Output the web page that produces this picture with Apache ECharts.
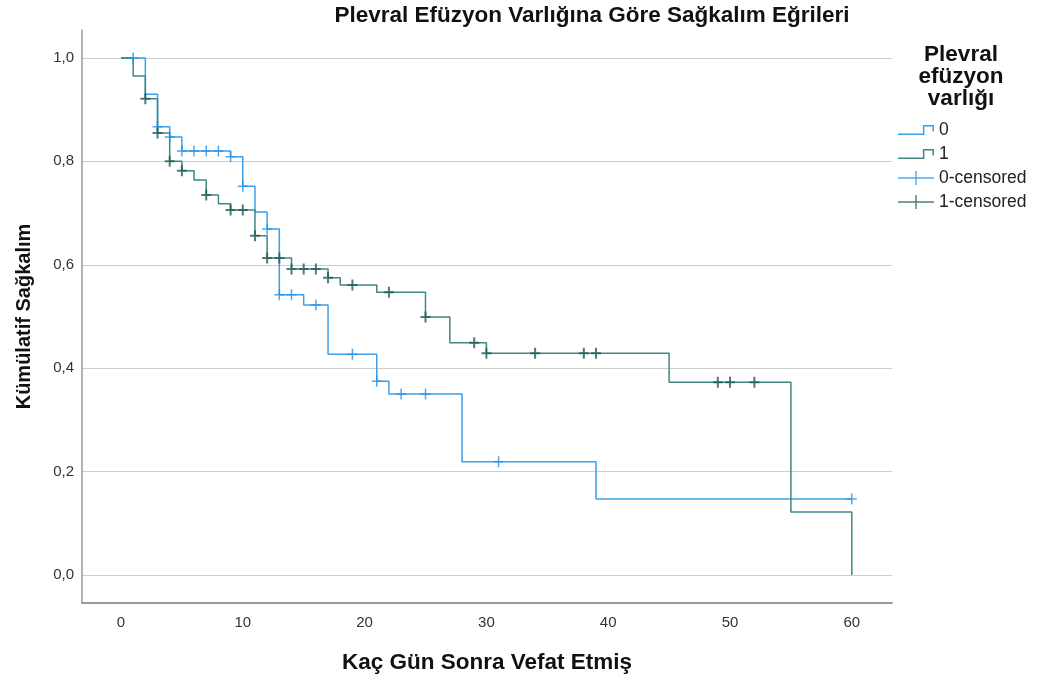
<!DOCTYPE html>
<html>
<head>
<meta charset="utf-8">
<script src="https://cdn.jsdelivr.net/npm/echarts@6/dist/echarts.min.js"></script>
<style>
  html, body { margin: 0; padding: 0; background: #ffffff; }
  #chart { width: 1044px; height: 684px; }
</style>
</head>
<body>
<div id="chart"></div>
<script>
// Kaplan–Meier curves: day of each drop and cumulative survival right after it
const timesNoEffusion    = [0, 2, 3, 4, 5, 9, 10, 11, 12, 13, 15, 17, 21, 22, 28, 39, 60];
const survivalNoEffusion = [1.0, 0.930, 0.867, 0.847, 0.820, 0.809, 0.752, 0.702, 0.669, 0.542, 0.522, 0.427, 0.375, 0.350, 0.219, 0.147, 0.147];
const censoredNoEffusion = [1, 3, 4, 5, 6, 7, 8, 9, 10, 12, 13, 14, 16, 19, 21, 23, 25, 31, 60];

const timesEffusion    = [0, 1, 2, 3, 4, 5, 6, 7, 8, 9, 11, 12, 14, 17, 18, 21, 25, 27, 30, 45, 55, 60];
const survivalEffusion = [1.0, 0.965, 0.921, 0.855, 0.800, 0.782, 0.764, 0.735, 0.718, 0.706, 0.656, 0.613, 0.592, 0.575, 0.561, 0.547, 0.499, 0.449, 0.429, 0.373, 0.122, 0.0];
const censoredEffusion = [2, 3, 4, 5, 7, 9, 10, 11, 12, 13, 14, 15, 16, 17, 19, 22, 25, 29, 30, 34, 38, 39, 49, 50, 52];

const groupNames = ['0', '1', '0-censored', '1-censored'];
const chartTitle = 'Plevral Efüzyon Varlığına Göre Sağkalım Eğrileri';
const legendTitle = 'Plevral\nefüzyon\nvarlığı';
const xAxisTitle = 'Kaç Gün Sonra Vefat Etmiş';
const yAxisTitle = 'Kümülatif Sağkalım';

// Survival level of a step curve at time t
function survivalAt(times, surv, t) {
  let s = surv[0];
  for (let i = 0; i < times.length; i++) {
    if (times[i] <= t) s = surv[i];
  }
  return s;
}
const zip = (a, b) => a.map((v, i) => [v, b[i]]);

const BLUE = '#3aa0ea';
const BLUE_MARK = '#2590e6';
const TEAL = '#3f8783';
const TEAL_MARK = '#1f5c56';
const FONT = 'Liberation Sans, Arial, sans-serif';

const plusThin = 'path://M4.25,0h1.5v11h-1.5z M0,4.75h10v1.5h-10z';
const plusBold = 'path://M4,0h2v11h-2z M0,4.5h10v2h-10z';
const stepIcon = 'path://M0,8.3h24.7v1.4H0z M23.3,0.3h1.4v9.4h-1.4z M23.3,0.3h10.4v1.4h-10.4z M32.3,0.3h1.4v6h-1.4z';
const plusIcon = 'path://M0,6.3h36v1.4H0z M17.3,0h1.4v14h-1.4z';

const decimalComma = v => Math.abs(v).toFixed(1).replace('.', ',');

const chart = echarts.init(document.getElementById('chart'), null, { renderer: 'canvas' });
chart.setOption({
  animation: false,
  backgroundColor: '#ffffff',
  textStyle: { fontFamily: FONT },
  grid: { left: 82, right: 152, top: 30, bottom: 81, containLabel: false },
  graphic: [
    {
      type: 'text', x: 592, y: 4,
      style: { text: chartTitle, font: 'bold 22.5px ' + FONT, fill: '#111', align: 'center', verticalAlign: 'top' }
    },
    {
      type: 'text', x: 961, y: 44,
      style: { text: legendTitle, font: 'bold 22.5px ' + FONT, fill: '#111', align: 'center', verticalAlign: 'top', lineHeight: 22 }
    }
  ],
  legend: {
    orient: 'vertical',
    left: 893,
    top: 116,
    itemWidth: 36,
    itemHeight: 14,
    itemGap: 6,
    selectedMode: false,
    itemStyle: { borderWidth: 0 },
    textStyle: { fontSize: 17.5, color: '#222', fontFamily: FONT, lineHeight: 18 },
    data: [
      { name: groupNames[0], icon: stepIcon },
      { name: groupNames[1], icon: stepIcon },
      { name: groupNames[2], icon: plusIcon },
      { name: groupNames[3], icon: plusIcon }
    ]
  },
  xAxis: {
    type: 'value',
    min: -3.2,
    max: 63.3,
    name: xAxisTitle,
    nameLocation: 'middle',
    nameGap: 48,
    nameTextStyle: { fontSize: 22.5, fontWeight: 'bold', color: '#111', fontFamily: FONT },
    axisLine: { show: true, onZero: false, lineStyle: { color: '#9a9a9a', width: 2 } },
    axisTick: { show: false },
    splitLine: { show: false },
    axisLabel: {
      fontSize: 15, color: '#333', margin: 12, fontFamily: FONT,
      showMinLabel: false, showMaxLabel: false,
      formatter: v => String(Math.abs(v))
    }
  },
  yAxis: {
    type: 'value',
    min: -0.054,
    max: 1.054,
    name: yAxisTitle,
    nameLocation: 'middle',
    nameGap: 48,
    nameTextStyle: { fontSize: 20, fontWeight: 'bold', color: '#111', fontFamily: FONT },
    axisLine: { show: true, onZero: false, lineStyle: { color: '#9a9a9a', width: 1.5 } },
    axisTick: { show: false },
    splitLine: { show: true, showMinLine: false, showMaxLine: false, lineStyle: { color: '#cdcdcd', width: 1.2 } },
    axisLabel: {
      fontSize: 15, color: '#333', margin: 8, fontFamily: FONT,
      showMinLabel: false, showMaxLabel: false,
      formatter: decimalComma
    }
  },
  series: [
    {
      name: groupNames[0], type: 'line', step: 'end', symbol: 'none', showSymbol: false,
      data: zip(timesNoEffusion, survivalNoEffusion),
      lineStyle: { color: BLUE, width: 1.5 }, itemStyle: { color: BLUE }, z: 2
    },
    {
      name: groupNames[1], type: 'line', step: 'end', symbol: 'none', showSymbol: false,
      data: zip(timesEffusion, survivalEffusion),
      lineStyle: { color: TEAL, width: 1.5 }, itemStyle: { color: TEAL }, z: 3
    },
    {
      name: groupNames[2], type: 'scatter', symbol: plusThin, symbolSize: [10, 11],
      data: censoredNoEffusion.map(t => [t, survivalAt(timesNoEffusion, survivalNoEffusion, t)]),
      itemStyle: { color: BLUE_MARK }, z: 4
    },
    {
      name: groupNames[3], type: 'scatter', symbol: plusBold, symbolSize: [10, 11],
      data: censoredEffusion.map(t => [t, survivalAt(timesEffusion, survivalEffusion, t)]),
      itemStyle: { color: TEAL_MARK }, z: 5
    }
  ]
});
</script>
</body>
</html>
